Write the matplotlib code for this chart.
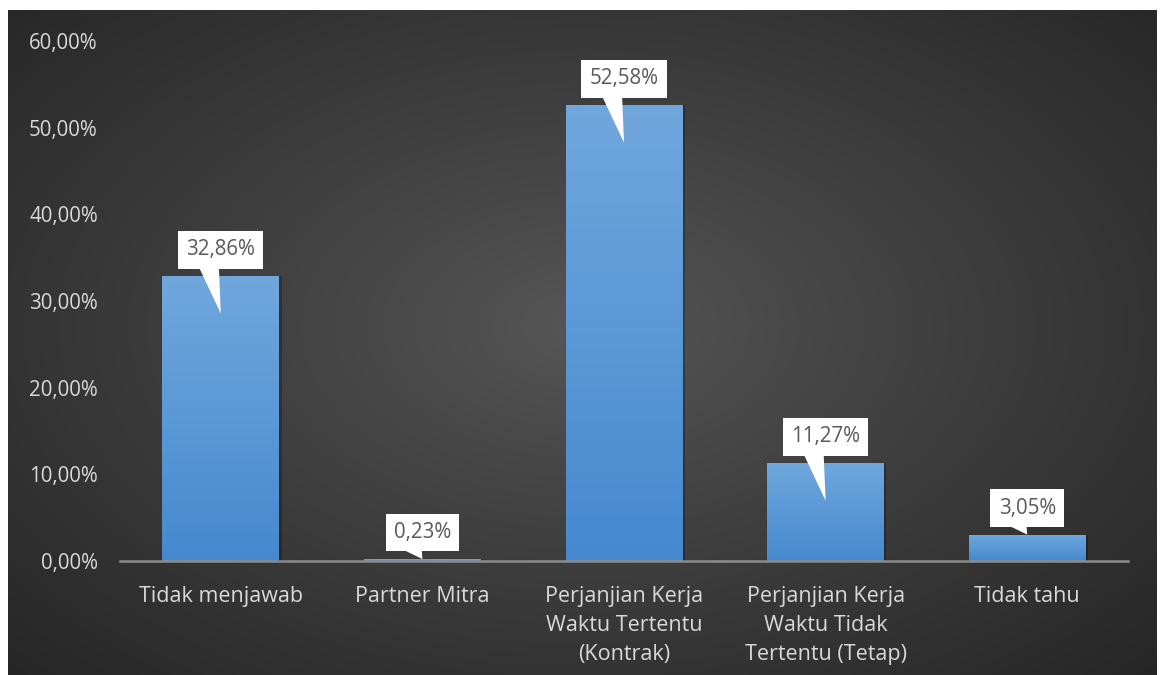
import matplotlib
matplotlib.use("Agg")
import matplotlib.pyplot as plt
import numpy as np
from matplotlib.colors import LinearSegmentedColormap
from matplotlib.patches import Rectangle

plt.rcParams['font.family'] = ['Open Sans', 'DejaVu Sans']

# status hubungan kerja responden
categories = ["Tidak menjawab", "Partner Mitra",
              "Perjanjian Kerja\nWaktu Tertentu\n(Kontrak)",
              "Perjanjian Kerja\nWaktu Tidak\nTertentu (Tetap)",
              "Tidak tahu"]
values = [32.86, 0.23, 52.58, 11.27, 3.05]
yticks = [0, 10, 20, 30, 40, 50, 60]
ytick_labels = ["0,00%", "10,00%", "20,00%", "30,00%", "40,00%", "50,00%", "60,00%"]

W, H = 1161, 675
fig = plt.figure(figsize=(W / 100, H / 100), dpi=100)
fig.patch.set_facecolor("white")

# dark panel with radial gradient
bg = fig.add_axes([8 / W, 0, (1157 - 8) / W, (675 - 10) / H])
bg.set_axis_off()
gx, gy = np.meshgrid(np.linspace(-1, 1, 400), np.linspace(-1, 1, 240))
r = np.sqrt((gx * 1.0) ** 2 + ((gy + 0.05) * 0.95) ** 2) / np.sqrt(2)
r = np.clip(r, 0, 1)
c_mid, c_edge = np.array([0.34, 0.34, 0.34]), np.array([0.15, 0.15, 0.15])
img = c_mid[None, None, :] + (c_edge - c_mid)[None, None, :] * r[..., None] ** 0.9
bg.imshow(img, aspect="auto", extent=[0, 1, 0, 1], interpolation="bilinear")
bg.set_xlim(0, 1)
bg.set_ylim(0, 1)

ax = fig.add_axes([120 / W, (675 - 561) / H, (1128 - 120) / W, (561 - 41) / H])
ax.set_facecolor("none")

bar_cmap = LinearSegmentedColormap.from_list("barblue", ["#4689cf", "#70a7dd"])
grad = np.linspace(0, 1, 256).reshape(-1, 1)
bar_w = 0.58
x = np.arange(len(values))
bars = ax.bar(x, values, width=bar_w, color="none", edgecolor="none", zorder=3)
for b in bars:
    bx, by, bw, bh = b.get_x(), b.get_y(), b.get_width(), b.get_height()
    # soft shadow
    ax.add_patch(Rectangle((bx + 0.012, by), bw, bh, facecolor="black",
                           alpha=0.25, edgecolor="none", zorder=2))
    im = ax.imshow(grad, cmap=bar_cmap, aspect="auto", origin="lower",
                   extent=[bx, bx + bw, by, by + bh], zorder=3)
    im.set_clip_path(b)
ax.set_xlim(-0.5, len(values) - 0.5)
ax.set_ylim(0, 60)

# data label callouts
for xi, v in zip(x, values):
    tip = v - 4.3 if v > 8 else v
    ax.annotate(f"{v:.2f}%".replace(".", ","), xy=(xi, tip), xytext=(xi, v + 3.05),
                ha="center", va="center", fontsize=14.8, color="#595959", zorder=5,
                bbox=dict(boxstyle="square,pad=0.4", fc="white", ec="none"),
                arrowprops=dict(arrowstyle="wedge,tail_width=0.8", fc="white",
                                ec="none", relpos=(0.31, 0.0), shrinkA=0, shrinkB=0,
                                patchA=None, mutation_scale=20))

ax.set_yticks(yticks)
ax.set_yticklabels(ytick_labels)
ax.set_xticks(x)
ax.set_xticklabels(categories, linespacing=1.5)
ax.tick_params(axis="y", length=0, pad=16, labelsize=14.8, labelcolor="#d9d9d9")
ax.tick_params(axis="x", length=0, pad=18, labelsize=15.5, labelcolor="#d9d9d9")
for s in ["top", "right", "left"]:
    ax.spines[s].set_visible(False)
ax.spines["bottom"].set_color("#8c8c8c")
ax.spines["bottom"].set_linewidth(1.8)
ax.spines["bottom"].set_zorder(4)

fig.savefig("out.png", dpi=100, facecolor=fig.get_facecolor())
